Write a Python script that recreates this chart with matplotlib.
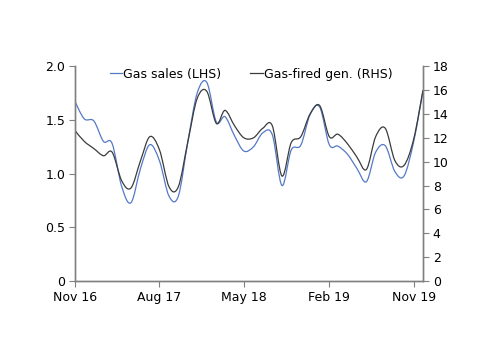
import numpy as np
import pandas as pd
import matplotlib
matplotlib.use("Agg")
import matplotlib.pyplot as plt
import matplotlib.dates as mdates
from matplotlib.path import Path
from matplotlib.patches import PathPatch
from matplotlib.lines import Line2D

# monthly data, Nov 16 - Dec 19
months = pd.date_range("2016-11-01", "2019-12-01", freq="MS")
gas_sales = [1.67, 1.51, 1.49, 1.30, 1.28, 0.88, 0.73, 1.05, 1.27, 1.12,
             0.79, 0.79, 1.30, 1.75, 1.85, 1.48, 1.53, 1.35, 1.21, 1.25,
             1.38, 1.36, 0.89, 1.22, 1.265, 1.55, 1.62, 1.27, 1.256, 1.18,
             1.05, 0.925, 1.20, 1.26, 1.02, 0.98, 1.30, 1.77]
gas_gen = [12.6, 11.7, 11.1, 10.5, 10.8, 8.4, 7.8, 10.1, 12.1, 11.0,
           7.9, 7.9, 11.7, 15.3, 15.9, 13.2, 14.3, 13.0, 12.0, 12.0,
           12.8, 13.0, 8.8, 11.6, 12.1, 14.0, 14.7, 12.1, 12.3, 11.5,
           10.4, 9.35, 12.1, 12.8, 10.1, 9.7, 11.9, 16.0]
left_ticks = [0, 0.5, 1.0, 1.5, 2.0]
left_labels = ["0", "0.5", "1.0", "1.5", "2.0"]
right_ticks = list(range(0, 19, 2))
x_ticks = pd.to_datetime(["2016-11-01", "2017-08-01", "2018-05-01",
                          "2019-02-01", "2019-11-01"])

blue = "#5479c6"
grey = "#3c3c3c"
spine_col = "#808080"


def smooth_path(x, y):
    # excel style smoothed line (catmull-rom as bezier)
    x = np.asarray(x, float)
    y = np.asarray(y, float)
    n = len(x)
    verts = [(x[0], y[0])]
    codes = [Path.MOVETO]
    for i in range(n - 1):
        i0 = max(i - 1, 0)
        i3 = min(i + 2, n - 1)
        c1 = (x[i] + (x[i + 1] - x[i0]) / 6, y[i] + (y[i + 1] - y[i0]) / 6)
        c2 = (x[i + 1] - (x[i3] - x[i]) / 6, y[i + 1] - (y[i3] - y[i]) / 6)
        verts += [c1, c2, (x[i + 1], y[i + 1])]
        codes += [Path.CURVE4] * 3
    return Path(verts, codes)


plt.rcParams["font.family"] = "DejaVu Sans"
fig = plt.figure(figsize=(5, 3.54), dpi=100)
ax = fig.add_axes([0.15, 0.206, 0.696, 0.607])
ax2 = ax.twinx()

xn = mdates.date2num(months)
ax.add_patch(PathPatch(smooth_path(xn, gas_sales), fill=False,
                       edgecolor=blue, lw=0.9))
ax2.add_patch(PathPatch(smooth_path(xn, gas_gen), fill=False,
                        edgecolor=grey, lw=0.9))

ax.set_xlim(xn[0], xn[-1])
ax.set_ylim(0, 2.0)
ax2.set_ylim(0, 18)
ax.set_yticks(left_ticks)
ax.set_yticklabels(left_labels)
ax2.set_yticks(right_ticks)
ax.set_xticks(mdates.date2num(x_ticks))
ax.set_xticklabels([d.strftime("%b %y") for d in x_ticks])

for a in (ax, ax2):
    a.spines["top"].set_visible(False)
    for s in ("left", "right", "bottom"):
        a.spines[s].set_color(spine_col)
        a.spines[s].set_linewidth(1.0)
    a.tick_params(length=4, width=0.8, color=spine_col, labelsize=9,
                  labelcolor="black", pad=3)

handles = [Line2D([], [], color=blue, lw=0.9),
           Line2D([], [], color=grey, lw=0.9)]
ax.legend(handles, ["Gas sales (LHS)", "Gas-fired gen. (RHS)"],
          loc="upper center", bbox_to_anchor=(0.506, 1.045), ncol=2,
          frameon=False, fontsize=9, handlelength=1.0, handletextpad=0.1,
          columnspacing=2.3)

fig.savefig("out.png", dpi=100)
